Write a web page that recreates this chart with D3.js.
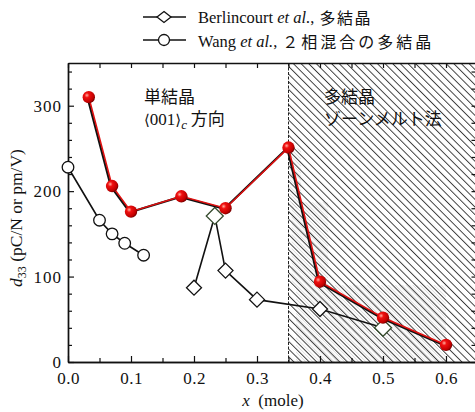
<!DOCTYPE html>
<html>
<head>
<meta charset="utf-8">
<script src="https://cdn.jsdelivr.net/npm/d3@7"></script>
<style>
  body { margin: 0; background: #fff; }
  svg { display: block; }
  text { font-family: "Liberation Serif", "Noto Sans CJK JP", serif; fill: #111; }
</style>
</head>
<body>
<script>
"use strict";
(function(){
    // single crystal <001>c (red balls)
    const crystalX = [0.033, 0.07, 0.10, 0.18, 0.25, 0.35, 0.40, 0.50, 0.60];
    const crystalY = [310, 206, 176, 194, 180, 251, 94, 52, 20];

    // Wang et al. (open circles)
    const wangX = [0.0, 0.05, 0.07, 0.09, 0.12];
    const wangY = [228, 166, 150, 139, 125];

    // Berlincourt et al. (open diamonds)
    const berlX = [0.20, 0.233, 0.25, 0.30, 0.40, 0.50];
    const berlY = [87, 171, 107, 73, 62, 40];

    const xMajor = [0.0, 0.1, 0.2, 0.3, 0.4, 0.5, 0.6];
    const xLabels = ["0.0", "0.1", "0.2", "0.3", "0.4", "0.5", "0.6"];
    const yMajor = [0, 100, 200, 300];

    const polyStart = 0.35;
    // darker scan shading inside hatched zone [x0, x1, y0, y1]
    const shadeX0 = [0.355, 0.352, 0.362];
    const shadeX1 = [0.413, 0.37, 0.60];
    const shadeY0 = [90, 180, 0];
    const shadeY1 = [187, 250, 90];

    const measurements = {
        width: 475,
        height: 412,
        left: 68,
        right: 477.5,
        top: 63,
        bottom: 362
    };

    const svg = d3.select("body").append("svg")
        .attr("width", measurements.width)
        .attr("height", measurements.height);

    const scaleX = d3.scaleLinear()
        .domain([0, 0.65])
        .range([measurements.left, measurements.right]);
    const scaleY = d3.scaleLinear()
        .domain([0, 350])
        .range([measurements.bottom, measurements.top]);

    const defs = svg.append("defs");
    const hatch = defs.append("pattern")
        .attr("id", "hatch")
        .attr("patternUnits", "userSpaceOnUse")
        .attr("width", 5.4).attr("height", 5.4)
        .attr("patternTransform", "rotate(-45)");
    hatch.append("line")
        .attr("x1", 0.5).attr("y1", 0).attr("x2", 0.5).attr("y2", 5.4)
        .attr("stroke", "#222").attr("stroke-width", 0.85);

    const hatchDense = defs.append("pattern")
        .attr("id", "hatchDense")
        .attr("patternUnits", "userSpaceOnUse")
        .attr("width", 2.5).attr("height", 2.5)
        .attr("patternTransform", "rotate(-45)");
    hatchDense.append("line")
        .attr("x1", 0).attr("y1", 0).attr("x2", 0).attr("y2", 2.5)
        .attr("stroke", "#777").attr("stroke-width", 0.7);

    const ball = defs.append("radialGradient")
        .attr("id", "ball")
        .attr("cx", "35%").attr("cy", "35%").attr("r", "65%");
    ball.append("stop").attr("offset", "0%").attr("stop-color", "#ffb0a0");
    ball.append("stop").attr("offset", "30%").attr("stop-color", "#f01010");
    ball.append("stop").attr("offset", "85%").attr("stop-color", "#c00000");
    ball.append("stop").attr("offset", "100%").attr("stop-color", "#800000");

    // hatched polycrystal zone
    svg.append("rect")
        .attr("x", scaleX(polyStart))
        .attr("y", scaleY(350))
        .attr("width", scaleX(0.65) - scaleX(polyStart))
        .attr("height", scaleY(0) - scaleY(350))
        .attr("fill", "url(#hatch)");

    d3.range(shadeX0.length).forEach(i => {
        svg.append("rect")
            .attr("x", scaleX(shadeX0[i]))
            .attr("y", scaleY(shadeY1[i]))
            .attr("width", scaleX(shadeX1[i]) - scaleX(shadeX0[i]))
            .attr("height", scaleY(shadeY0[i]) - scaleY(shadeY1[i]))
            .attr("fill", "url(#hatchDense)")
            .attr("opacity", 0.55);
    });

    svg.append("line")
        .attr("x1", scaleX(polyStart)).attr("x2", scaleX(polyStart))
        .attr("y1", scaleY(350)).attr("y2", scaleY(0))
        .attr("stroke", "#222").attr("stroke-width", 1)
        .attr("stroke-dasharray", "3,1.5");

    // axes with inward ticks
    const xMinor = d3.range(0.05, 0.65, 0.1);
    const yMinor = d3.range(20, 350, 20).filter(v => v % 100 !== 0);

    svg.append("g")
        .attr("transform", `translate(0,${measurements.bottom})`)
        .call(d3.axisBottom(scaleX).tickValues(xMajor).tickSizeInner(-6).tickSizeOuter(0)
            .tickPadding(10).tickFormat((d, i) => xLabels[i]))
        .call(g => g.selectAll("text").attr("font-size", 17).attr("letter-spacing", 0.5)
            .attr("font-family", "Liberation Serif"));
    svg.append("g")
        .attr("transform", `translate(0,${measurements.bottom})`)
        .call(d3.axisBottom(scaleX).tickValues(xMinor).tickSizeInner(-4).tickSizeOuter(0).tickFormat(""));
    svg.append("g")
        .attr("transform", `translate(0,${measurements.top})`)
        .call(d3.axisTop(scaleX).tickValues(xMajor.concat(xMinor)).tickSizeInner(-5).tickSizeOuter(0).tickFormat(""));

    svg.append("g")
        .attr("transform", `translate(${measurements.left},0)`)
        .call(d3.axisLeft(scaleY).tickValues(yMajor).tickSizeInner(-6).tickSizeOuter(0).tickPadding(6))
        .call(g => g.selectAll("text").attr("font-size", 17).attr("letter-spacing", 1)
            .attr("font-family", "Liberation Serif"));
    svg.append("g")
        .attr("transform", `translate(${measurements.left},0)`)
        .call(d3.axisLeft(scaleY).tickValues(yMinor).tickSizeInner(-4).tickSizeOuter(0).tickFormat(""));
    svg.append("g")
        .attr("transform", `translate(${measurements.right - 2},0)`)
        .call(d3.axisRight(scaleY).tickValues(yMajor.concat(yMinor)).tickSizeInner(-4).tickSizeOuter(0).tickFormat(""));

    svg.selectAll(".domain").attr("stroke", "#111").attr("stroke-width", 1.4);
    svg.selectAll(".tick line").attr("stroke", "#111").attr("stroke-width", 1.2);

    const line = d3.line().x(d => scaleX(d[0])).y(d => scaleY(d[1]));

    // Wang open circles
    const wang = wangX.map((x, i) => [x, wangY[i]]);
    svg.append("path").datum(wang).attr("d", line)
        .attr("fill", "none").attr("stroke", "#111").attr("stroke-width", 1.6);
    svg.selectAll(".wang").data(wang).enter().append("circle")
        .attr("cx", d => scaleX(d[0])).attr("cy", d => scaleY(d[1])).attr("r", 5.8)
        .attr("fill", "#fff").attr("stroke", "#111").attr("stroke-width", 1.3);

    // Berlincourt open diamonds
    const berl = berlX.map((x, i) => [x, berlY[i]]);
    svg.append("path").datum(berl).attr("d", line)
        .attr("fill", "none").attr("stroke", "#111").attr("stroke-width", 1.6);
    svg.selectAll(".berl").data(berl).enter().append("path")
        .attr("transform", d => `translate(${scaleX(d[0])},${scaleY(d[1])})`)
        .attr("d", (d, i) => i === 1 || i === 5 ? "M0,-8.5L8.5,0L0,8.5L-8.5,0Z" : "M0,-7.5L7.5,0L0,7.5L-7.5,0Z")
        .attr("fill", "#fff").attr("stroke", (d, i) => i === 1 || i === 5 ? "#344a2c" : "#111")
        .attr("stroke-width", 1.3);

    // single crystal red balls: black line underneath, red on top
    const crystal = crystalX.map((x, i) => [x, crystalY[i]]);
    svg.append("path").datum(crystal).attr("d", line)
        .attr("transform", "translate(-1.2,0.6)")
        .attr("fill", "none").attr("stroke", "#111").attr("stroke-width", 2.2);
    svg.append("path").datum(crystal).attr("d", line)
        .attr("fill", "none").attr("stroke", "#e01010").attr("stroke-width", 1.6);
    svg.selectAll(".crystal").data(crystal).enter().append("circle")
        .attr("cx", d => scaleX(d[0])).attr("cy", d => scaleY(d[1])).attr("r", 6.2)
        .attr("fill", "url(#ball)");

    // annotations
    const jp = "Noto Sans CJK JP";
    svg.append("text").attr("x", 144).attr("y", 103)
        .attr("font-family", jp).attr("font-size", 17).text("単結晶");
    const t2 = svg.append("text").attr("x", 144).attr("y", 125).attr("font-size", 17);
    t2.append("tspan").attr("font-family", "DejaVu Serif").attr("font-size", 15).text("\u27E8");
    t2.append("tspan").text("001");
    t2.append("tspan").attr("font-family", "DejaVu Serif").attr("font-size", 15).text("\u27E9");
    t2.append("tspan").attr("font-style", "italic").attr("font-size", 13).attr("dy", 4).text("c");
    t2.append("tspan").attr("font-family", jp).attr("font-size", 17).attr("dy", -4).text(" 方向");

    svg.append("text").attr("x", 324).attr("y", 103)
        .attr("font-family", jp).attr("font-size", 17).text("多結晶");
    svg.append("text").attr("x", 324).attr("y", 125)
        .attr("font-family", jp).attr("font-size", 17).text("ゾーンメルト法");

    // axis titles
    const yt = svg.append("text")
        .attr("transform", "translate(22,218)rotate(-90)")
        .attr("text-anchor", "middle").attr("font-size", 17.5);
    yt.append("tspan").attr("font-style", "italic").text("d");
    yt.append("tspan").attr("font-size", 12).attr("dy", 4).text("33");
    yt.append("tspan").attr("dy", -4).text("  (pC/N or pm/V)");

    const xt = svg.append("text")
        .attr("x", 273).attr("y", 406)
        .attr("text-anchor", "middle").attr("font-size", 17);
    xt.append("tspan").attr("font-style", "italic").text("x");
    xt.append("tspan").attr("xml:space", "preserve").text("  (mole)");

    // legend
    const legend = svg.append("g");
    legend.append("line").attr("x1", 143).attr("x2", 186).attr("y1", 17).attr("y2", 17)
        .attr("stroke", "#111").attr("stroke-width", 1.5);
    legend.append("path").attr("transform", "translate(164,17)")
        .attr("d", "M0,-5.5L7,0L0,5.5L-7,0Z")
        .attr("fill", "#fff").attr("stroke", "#111").attr("stroke-width", 1.3);
    legend.append("line").attr("x1", 143).attr("x2", 186).attr("y1", 40).attr("y2", 40)
        .attr("stroke", "#111").attr("stroke-width", 1.5);
    legend.append("circle").attr("cx", 164).attr("cy", 40).attr("r", 5.5)
        .attr("fill", "#fff").attr("stroke", "#111").attr("stroke-width", 1.3);

    function legendRow(y, name, jpText, spacing) {
        const t = legend.append("text").attr("x", 198).attr("y", y).attr("font-size", 16.5);
        t.append("tspan").text(name + " ");
        t.append("tspan").attr("font-style", "italic").text("et al.");
        t.append("tspan").text(",");
        const w = t.node().getComputedTextLength();
        legend.append("text").attr("x", 198 + w + 5).attr("y", y + 1)
            .attr("font-family", jp).attr("font-size", 16).attr("letter-spacing", spacing)
            .text(jpText);
    }
    legendRow(23, "Berlincourt", "多結晶", 1.5);
    legendRow(47, "Wang", "２相混合の多結晶", 3);
})();
</script>
</body>
</html>
